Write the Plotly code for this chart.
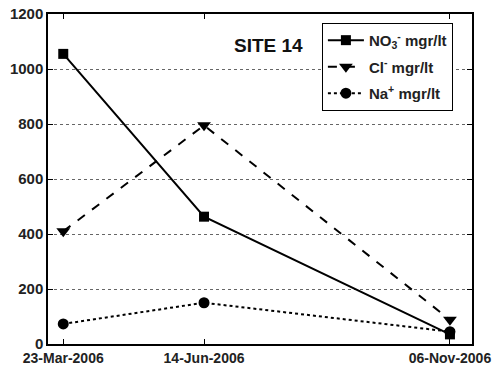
import plotly.graph_objects as go

dates = ["2006-03-23", "2006-06-14", "2006-11-06"]
tick_labels = ["23-Mar-2006", "14-Jun-2006", "06-Nov-2006"]
y_ticks = [0, 200, 400, 600, 800, 1000, 1200]
no3 = [1055, 463, 35]
cl = [410, 795, 88]
na = [73, 150, 45]

FONT = "Liberation Sans, Arial, sans-serif"

fig = go.Figure()
fig.add_trace(go.Scatter(x=dates, y=no3, mode="lines+markers",
                         name="<b>NO<sub>3</sub><sup>-</sup> mgr/lt</b>", legendgroup="a",
                         line=dict(color="black", width=2, dash="solid"),
                         marker=dict(symbol="square", size=10, color="black")))
fig.add_trace(go.Scatter(x=dates, y=cl, mode="lines+markers",
                         name="<b>Cl<sup>-</sup> mgr/lt</b>", legendgroup="b",
                         line=dict(color="black", width=2, dash="dash"),
                         marker=dict(symbol="triangle-down", size=12, color="black")))
fig.add_trace(go.Scatter(x=dates, y=na, mode="lines+markers",
                         name="<b>Na<sup>+</sup> mgr/lt</b>", legendgroup="c",
                         line=dict(color="black", width=2, dash="dot"),
                         marker=dict(symbol="circle", size=11, color="black")))

fig.update_layout(
    width=497, height=365,
    margin=dict(l=48, r=25, t=14, b=21),
    paper_bgcolor="white", plot_bgcolor="white",
    font=dict(family=FONT, size=15, color="#222"),
    showlegend=True,
    legend=dict(x=0.646, y=0.973, xanchor="left", yanchor="top",
                bordercolor="black", borderwidth=1, bgcolor="white",
                font=dict(family=FONT, size=15, color="#222"),
                tracegroupgap=4, itemwidth=36),
    annotations=[dict(text="<b>SITE 14</b>", xref="paper", yref="paper",
                      x=0.52, y=0.905, xanchor="center", yanchor="middle",
                      showarrow=False,
                      font=dict(family=FONT, size=19, color="#111"))],
)
fig.update_xaxes(type="date", range=["2006-03-14", "2006-11-19"],
                 tickvals=dates, ticktext=["<b>%s</b>" % t for t in tick_labels],
                 tickfont=dict(family=FONT, size=14, color="#222"),
                 ticks="inside", ticklen=5, tickcolor="black",
                 showline=True, linecolor="black", linewidth=1.5, mirror="ticks",
                 showgrid=False, zeroline=False, automargin=False)
fig.update_yaxes(range=[0, 1200],
                 tickvals=y_ticks,
                 ticktext=["<b>%d</b>" % v for v in y_ticks],
                 ticks="inside", ticklen=5, tickcolor="black",
                 showline=True, linecolor="black", linewidth=1.5, mirror="ticks",
                 showgrid=True, gridcolor="#666", griddash="dot", gridwidth=1,
                 zeroline=False, automargin=False)

fig.write_html("out.html")
